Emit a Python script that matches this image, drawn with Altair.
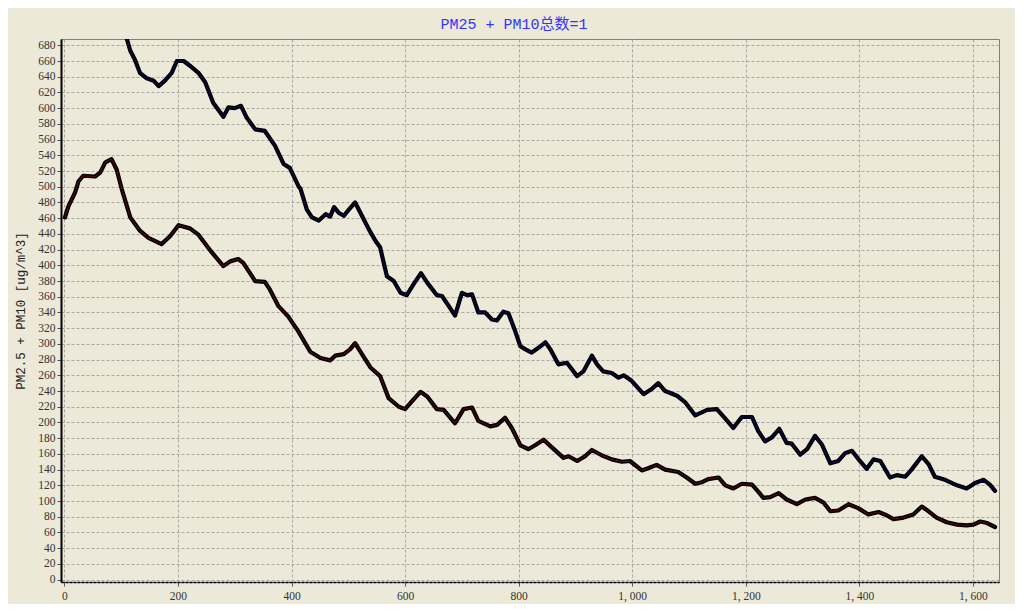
import altair as alt
import pandas as pd

# ---- data ----
lower_x = [1, 7, 19, 25, 33, 54, 63, 72, 83, 92,
           101, 116, 133, 148, 171, 186, 201, 221, 236, 259,
           280, 292, 306, 315, 336, 353, 362, 377, 394, 412,
           433, 451, 468, 477, 492, 503, 512, 524, 539, 556,
           571, 589, 600, 612, 627, 639, 656, 668, 688, 703,
           718, 729, 750, 762, 776, 788, 803, 817, 829, 844,
           859, 879, 888, 903, 917, 929, 947, 964, 982, 996,
           1017, 1029, 1043, 1058, 1081, 1096, 1111, 1123, 1134, 1152,
           1164, 1178, 1193, 1211, 1222, 1231, 1243, 1258, 1272, 1290,
           1305, 1322, 1337, 1349, 1363, 1381, 1398, 1416, 1434, 1448,
           1460, 1478, 1495, 1510, 1522, 1536, 1554, 1572, 1589, 1601,
           1613, 1625, 1639]
lower_y = [461, 475, 493, 507, 514, 513, 518, 531, 535, 522,
           497, 461, 444, 435, 427, 437, 451, 447, 439, 417,
           399, 405, 408, 403, 380, 379, 369, 348, 335, 316,
           290, 282, 279, 285, 287, 293, 301, 287, 270, 259,
           231, 220, 217, 227, 239, 233, 217, 216, 199, 217,
           219, 202, 195, 197, 206, 193, 171, 166, 171, 178,
           168, 155, 157, 151, 157, 165, 158, 153, 150, 151,
           139, 142, 146, 140, 137, 130, 122, 124, 128, 130,
           120, 116, 122, 121, 112, 104, 105, 110, 102, 96,
           102, 104, 98, 87, 88, 96, 91, 83, 86, 82,
           77, 79, 83, 93, 87, 79, 73, 70, 69, 70,
           74, 72, 67]

upper_x = [100, 110, 116, 124, 133, 145, 157, 166, 177, 189,
           198, 210, 221, 236, 248, 262, 280, 289, 300, 311,
           321, 336, 353, 371, 386, 397, 412, 416, 427, 436,
           448, 460, 468, 475, 483, 492, 501, 512, 524, 536,
           548, 556, 568, 580, 592, 603, 615, 628, 639, 656,
           665, 677, 688, 700, 709, 718, 729, 741, 753, 762,
           773, 782, 794, 803, 812, 823, 835, 847, 856, 870,
           885, 903, 914, 929, 938, 949, 964, 976, 985, 999,
           1020, 1035, 1046, 1058, 1079, 1093, 1111, 1132, 1149, 1164,
           1178, 1193, 1211, 1222, 1234, 1246, 1259, 1272, 1281, 1296,
           1308, 1322, 1334, 1349, 1363, 1375, 1387, 1401, 1413, 1425,
           1437, 1454, 1466, 1481, 1492, 1510, 1522, 1533, 1551, 1572,
           1589, 1604, 1619, 1630, 1639]
upper_y = [706, 688, 673, 662, 645, 638, 635, 628, 635, 645,
           660, 660, 654, 645, 633, 607, 589, 601, 600, 603,
           588, 573, 571, 552, 529, 524, 501, 497, 471, 461,
           457, 465, 462, 474, 467, 463, 471, 480, 463, 446,
           431, 423, 386, 380, 365, 362, 376, 390, 378, 362,
           361, 348, 336, 365, 362, 363, 340, 340, 331, 330,
           341, 339, 316, 297, 293, 289, 295, 302, 293, 274,
           276, 259, 265, 285, 274, 265, 263, 257, 260, 253,
           236, 243, 250, 240, 234, 226, 209, 216, 217, 205,
           193, 207, 207, 189, 176, 181, 192, 174, 173, 159,
           166, 183, 172, 148, 151, 161, 164, 151, 141, 153,
           151, 130, 133, 131, 140, 157, 147, 131, 127, 120,
           116, 123, 127, 121, 113]

x_ticks = list(range(0, 1601, 200))
y_ticks = list(range(0, 681, 20))

n_l = min(len(lower_x), len(lower_y))
n_u = min(len(upper_x), len(upper_y))
lower = pd.DataFrame({"x": lower_x[:n_l], "y": lower_y[:n_l]})
upper = pd.DataFrame({"x": upper_x[:n_u], "y": upper_y[:n_u]})

BG = "#ECE9D8"
GRID = "#A8A8A8"
LABEL_FONT = "Liberation Serif"
MONO = "Liberation Mono, Noto Sans CJK SC"

xs = alt.Scale(domain=[-6, 1646], nice=False, zero=False)
ys = alt.Scale(domain=[-3, 688], nice=False, zero=False)

x_axis = alt.Axis(values=x_ticks, title=None, grid=True, gridColor=GRID,
                  gridDash=[3, 2], gridWidth=1,
                  labelExpr="replace(datum.label, ',', ', ')",
                  labelFont=LABEL_FONT, labelFontSize=11.5, labelColor="#333333",
                  labelPadding=4, tickSize=4, tickColor="#555555",
                  domainColor="#000000", domainWidth=1.5, domainDash=[3, 1])
y_axis = alt.Axis(values=y_ticks, title="PM2.5 + PM10 [ug/m^3]", grid=True,
                  gridColor=GRID, gridDash=[3, 2], gridWidth=1,
                  labelFont=LABEL_FONT, labelFontSize=11.5, labelColor="#333333",
                  labelPadding=2, tickSize=4, tickColor="#555555",
                  domainColor="#000000", domainWidth=2,
                  titleFont=MONO, titleFontSize=12.5, titleFontWeight="normal",
                  titleColor="#222222", titlePadding=10)


def layer(df, color):
    enc_x = alt.X("x:Q", scale=xs, axis=x_axis)
    enc_y = alt.Y("y:Q", scale=ys, axis=y_axis)
    thick = alt.Chart(df).mark_line(color="#000000", strokeWidth=4.2,
                                    strokeCap="round", strokeJoin="round",
                                    clip=True).encode(x=enc_x, y=enc_y)
    thin = alt.Chart(df).mark_line(color=color, strokeWidth=0.7,
                                   clip=True).encode(x=enc_x, y=enc_y)
    return thick + thin


chart = alt.layer(
    layer(lower, "#8B1010"),
    layer(upper, "#10108B"),
).properties(
    width=938, height=543,
    autosize=alt.AutoSizeParams(type="none"),
    padding={"left": 53, "top": 31, "right": 16, "bottom": 22},
    background=BG,
    title=alt.TitleParams("PM25 + PM10总数=1", color="#3333FF", font=MONO,
                          fontSize=15, fontWeight="normal", offset=7, dx=-16),
).configure_view(stroke="#808080", strokeWidth=1, fill=BG)

chart.save("out.html", embed_options={"renderer": "svg", "actions": False})
